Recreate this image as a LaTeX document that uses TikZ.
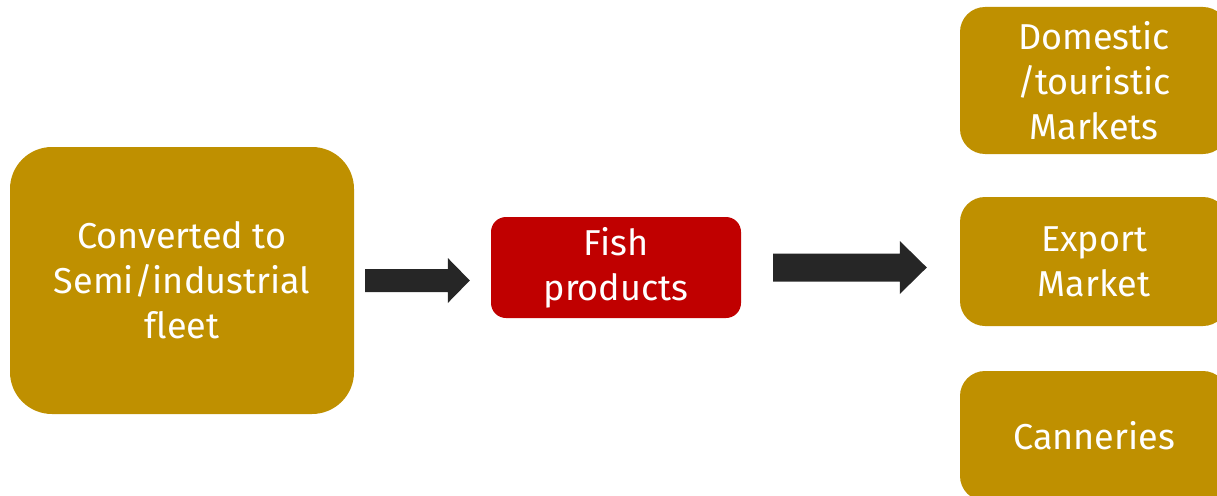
\documentclass[tikz,border=0pt]{standalone}
\usepackage{fontspec}
\setmainfont[Ligatures=NoCommon]{Fira Sans}
\usetikzlibrary{calc}
\definecolor{gold}{HTML}{BF9000}
\definecolor{fishred}{HTML}{C00000}
\definecolor{arrowc}{HTML}{262626}
\tikzset{
  box/.style={rectangle, fill=gold, text=white, align=center, inner sep=0pt,
    font=\fontsize{36}{45}\selectfont},
  redbox/.style={box, fill=fishred},
}
\begin{document}
\begin{tikzpicture}[x=1pt,y=-1pt]
\useasboundingbox (0,0) rectangle (1217,495);
\clip (0,0) rectangle (1217,495);
% boxes
\node[box, rounded corners=42pt, minimum width=344pt, minimum height=267pt] (fleet) at (182,280.5)
  {Converted to\\Semi/industrial\\fleet};
\node[redbox, rounded corners=15pt, minimum width=250pt, minimum height=101pt] (fish) at (616,267.5)
  {Fish\\products};
\node[box, rounded corners=25pt, minimum width=268pt, minimum height=147pt] (dom) at (1094,80.5)
  {Domestic\\/touristic\\Markets};
\node[box, rounded corners=25pt, minimum width=268pt, minimum height=129pt] (exp) at (1094,261.5)
  {Export\\Market};
\node[box, rounded corners=25pt, minimum width=268pt, minimum height=130pt] (can) at (1094,436)
  {Canneries};
% arrows
\coordinate (a1s) at ($(fleet.east)+(11,0)$);
\coordinate (a1e) at ($(fish.west |- a1s)+(-21,0)$);
\fill[arrowc] ($(a1s)+(0,-11.5)$) -- ($(a1e)+(-22,-11.5)$) -- ($(a1e)+(-22,-22.5)$) -- (a1e)
  -- ($(a1e)+(-22,22.5)$) -- ($(a1e)+(-22,11.5)$) -- ($(a1s)+(0,11.5)$) -- cycle;
\coordinate (a2s) at ($(fish.east)+(32,0)$);
\coordinate (a2e) at ($(exp.west |- a2s)+(-33,0)$);
\fill[arrowc] ($(a2s)+(0,-14)$) -- ($(a2e)+(-27,-14)$) -- ($(a2e)+(-27,-26.5)$) -- (a2e)
  -- ($(a2e)+(-27,26.5)$) -- ($(a2e)+(-27,14)$) -- ($(a2s)+(0,14)$) -- cycle;
\end{tikzpicture}
\end{document}
